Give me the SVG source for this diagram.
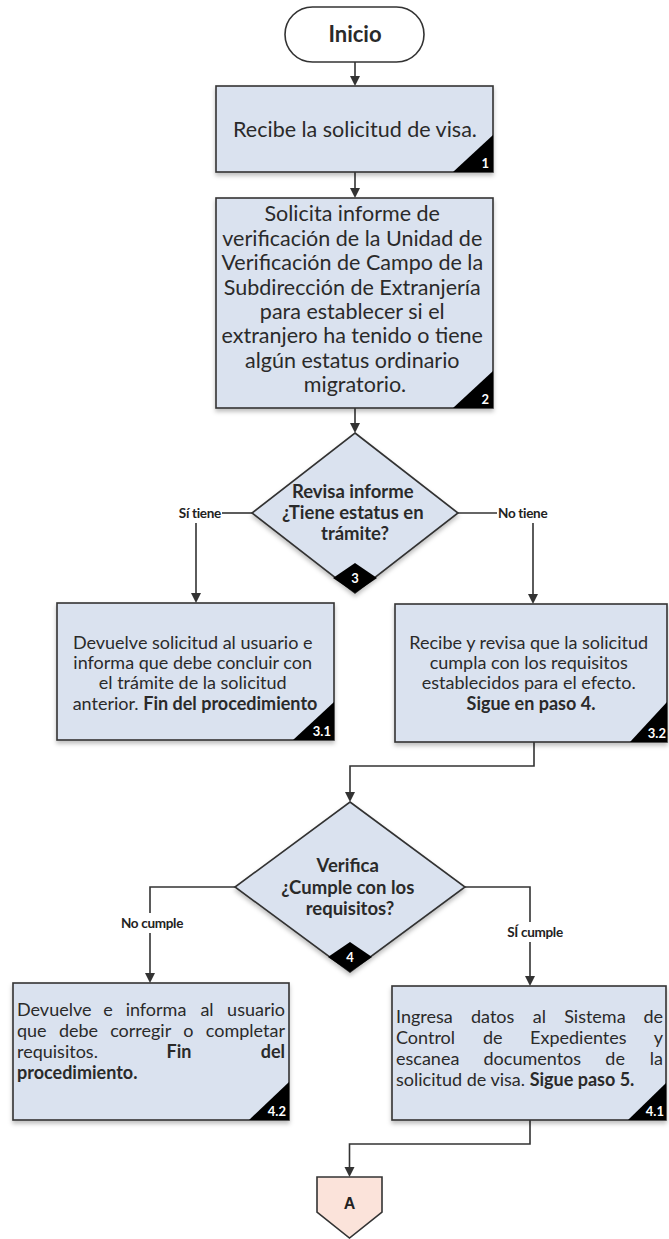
<svg xmlns="http://www.w3.org/2000/svg" width="669" height="1239" viewBox="0 0 669 1239">
<style>
.box{fill:#dae2ef;stroke:#333;stroke-width:1.6}
.t{font-family:Lato,"Open Sans","Liberation Sans",sans-serif;fill:#2a2a2a}
.c{text-anchor:middle}
.e{text-anchor:end}
.b{font-weight:bold}
.badge{fill:#000}
.bt{font-family:Lato,"Liberation Sans",sans-serif;font-weight:bold;font-size:13px;fill:#fff;text-anchor:end}
.ln{fill:none;stroke:#333;stroke-width:1.6}
.ah{fill:#333}
.lbl{font-family:Lato,"Liberation Sans",sans-serif;font-weight:bold;font-size:13.5px;fill:#222;letter-spacing:-0.3px}
</style>
<defs>
<filter id="sh" x="-5%" y="-5%" width="110%" height="120%">
<feDropShadow dx="0" dy="3" stdDeviation="2" flood-color="#000" flood-opacity="0.25"/>
</filter>
</defs>

<g id="connectors">
<path class="ln" d="M355 62 V76"/>
<path class="ah" d="M350 76 L360 76 L355 86 Z"/>
<path class="ln" d="M355 172 V188"/>
<path class="ah" d="M350 188 L360 188 L355 198 Z"/>
<path class="ln" d="M355 408 V423"/>
<path class="ah" d="M350 423 L360 423 L355 433 Z"/>
<path class="ln" d="M252 513 H222"/>
<path class="ln" d="M196 523 V593"/>
<path class="ah" d="M191 593 L201 593 L196 603 Z"/>
<path class="ln" d="M458 513 H497"/>
<path class="ln" d="M533 523 V594"/>
<path class="ah" d="M528 594 L538 594 L533 604 Z"/>
<path class="ln" d="M534 742 V766 H350 V792"/>
<path class="ah" d="M345 792 L355 792 L350 802 Z"/>
<path class="ln" d="M235 887 H150 V913"/>
<path class="ln" d="M150 933 V973"/>
<path class="ah" d="M145 973 L155 973 L150 983 Z"/>
<path class="ln" d="M465 887 H530 V922"/>
<path class="ln" d="M530 942 V976"/>
<path class="ah" d="M525 976 L535 976 L530 986 Z"/>
<path class="ln" d="M530 1120 V1144 H349.5 V1167"/>
<path class="ah" d="M344.5 1167 L354.5 1167 L349.5 1177 Z"/>
<text class="lbl e" x="221" y="518">Sí tiene</text>
<text class="lbl" x="498" y="518">No tiene</text>
<text class="lbl c" x="152" y="928">No cumple</text>
<text class="lbl c" x="535" y="937">SÍ cumple</text>
</g>

<g id="inicio">
<rect x="285" y="7" width="139" height="55" rx="27.5" fill="#fff" stroke="#333" stroke-width="1.6"/>
<text class="t c b" x="355" y="42" font-size="22">Inicio</text>
</g>

<g id="paso1">
<rect class="box" x="216" y="86" width="277" height="86" filter="url(#sh)"/>
<path class="badge" d="M453 172 L493 135 L493 172 Z"/>
<text class="bt" x="489" y="168">1</text>
<text class="t c" x="355" y="137" font-size="21.5">Recibe la solicitud de visa.</text>
</g>

<g id="paso2">
<rect class="box" x="216" y="198" width="277" height="210" filter="url(#sh)"/>
<path class="badge" d="M453 408 L493 371 L493 408 Z"/>
<text class="bt" x="489" y="404">2</text>
<text class="t c" font-size="21.5">
<tspan x="355" y="221">Solicita informe de</tspan>
<tspan x="355" y="246">verificación de la Unidad de</tspan>
<tspan x="355" y="270">Verificación de Campo de la</tspan>
<tspan x="355" y="295">Subdirección de Extranjería</tspan>
<tspan x="355" y="319">para establecer si el</tspan>
<tspan x="355" y="343">extranjero ha tenido o tiene</tspan>
<tspan x="355" y="368">algún estatus ordinario</tspan>
<tspan x="355" y="392">migratorio.</tspan>
</text>
</g>

<g id="decision3">
<path class="box" d="M355 433 L458 513 L355 593 L252 513 Z" filter="url(#sh)"/>
<path class="badge" d="M355 563 L377 578 L355 593 L333 578 Z"/>
<text class="bt" x="355" y="583" font-size="11" style="text-anchor:middle">3</text>
<text class="t c b" font-size="18.5">
<tspan x="355" y="498">Revisa informe</tspan>
<tspan x="355" y="519">¿Tiene estatus en</tspan>
<tspan x="355" y="540">trámite?</tspan>
</text>
</g>

<g id="paso3_1">
<rect class="box" x="57" y="603" width="277" height="137" filter="url(#sh)"/>
<path class="badge" d="M293 740 L334 702 L334 740 Z"/>
<text class="bt" x="331" y="736">3.1</text>
<text class="t c" font-size="18">
<tspan x="195" y="649">Devuelve solicitud al usuario e</tspan>
<tspan x="195" y="669">informa que debe concluir con</tspan>
<tspan x="195" y="689">el trámite de la solicitud</tspan>
<tspan x="195" y="710">anterior. <tspan class="b">Fin del procedimiento</tspan></tspan>
</text>
</g>

<g id="paso3_2">
<rect class="box" x="395" y="604" width="272" height="138" filter="url(#sh)"/>
<path class="badge" d="M630 742 L667 702 L667 742 Z"/>
<text class="bt" x="666" y="738">3.2</text>
<text class="t c" font-size="18">
<tspan x="531" y="649">Recibe y revisa que la solicitud</tspan>
<tspan x="531" y="669">cumpla con los requisitos</tspan>
<tspan x="531" y="689">establecidos para el efecto.</tspan>
<tspan x="531" y="710" class="b">Sigue en paso 4.</tspan>
</text>
</g>

<g id="decision4">
<path class="box" d="M350 802 L465 887 L350 972 L235 887 Z" filter="url(#sh)"/>
<path class="badge" d="M350 942 L372 957 L350 972 L328 957 Z"/>
<text class="bt" x="350" y="962" font-size="11" style="text-anchor:middle">4</text>
<text class="t c b" font-size="18.5">
<tspan x="350" y="872">Verifica</tspan>
<tspan x="350" y="894">¿Cumple con los</tspan>
<tspan x="350" y="915">requisitos?</tspan>
</text>
</g>

<g id="paso4_2">
<rect class="box" x="13" y="983" width="276" height="137" filter="url(#sh)"/>
<path class="badge" d="M249 1120 L289 1082 L289 1120 Z"/>
<text class="bt" x="286" y="1116">4.2</text>
<g class="t" font-size="18">
<text x="17" y="1016">Devuelve</text>
<text class="c" x="108" y="1016">e</text>
<text class="c" x="156" y="1016">informa</text>
<text class="c" x="207" y="1016">al</text>
<text class="e" x="285" y="1016">usuario</text>
<text x="17" y="1037">que</text>
<text class="c" x="78.5" y="1037">debe</text>
<text class="c" x="140.7" y="1037">corregir</text>
<text class="c" x="188.4" y="1037">o</text>
<text class="e" x="285" y="1037">completar</text>
<text x="17" y="1058">requisitos.</text>
<text class="c b" x="179" y="1058">Fin</text>
<text class="e b" x="285" y="1058">del</text>
<text class="b" x="17" y="1079">procedimiento.</text>
</g>
</g>

<g id="paso4_1">
<rect class="box" x="392" y="986" width="274" height="134" filter="url(#sh)"/>
<path class="badge" d="M628 1120 L666 1083 L666 1120 Z"/>
<text class="bt" x="664" y="1116">4.1</text>
<g class="t" font-size="18">
<text x="396" y="1023">Ingresa</text>
<text class="c" x="492.7" y="1023">datos</text>
<text class="c" x="539.4" y="1023">al</text>
<text class="c" x="594.9" y="1023">Sistema</text>
<text class="e" x="663" y="1023">de</text>
<text x="396" y="1044">Control</text>
<text class="c" x="492.8" y="1044">de</text>
<text class="c" x="578.3" y="1044">Expedientes</text>
<text class="e" x="663" y="1044">y</text>
<text x="396" y="1065">escanea</text>
<text class="c" x="532.3" y="1065">documentos</text>
<text class="c" x="615.1" y="1065">de</text>
<text class="e" x="663" y="1065">la</text>
<text x="396" y="1086">solicitud de visa. <tspan class="b">Sigue paso 5.</tspan></text>
</g>
</g>

<g id="conectorA">
<path d="M317 1177 H382 V1212 L349.5 1238 L317 1212 Z" fill="#fbe3da" stroke="#333" stroke-width="1.6"/>
<text x="349.5" y="1209" font-family="'Liberation Sans',Arial,sans-serif" font-weight="bold" font-size="16" fill="#222" text-anchor="middle">A</text>
</g>
</svg>
